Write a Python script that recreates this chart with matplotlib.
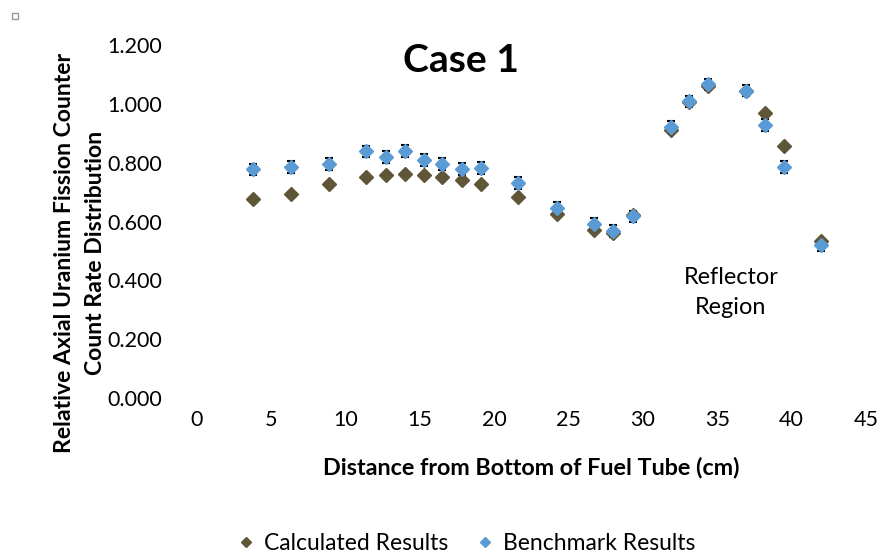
import matplotlib
matplotlib.use("Agg")
import matplotlib.pyplot as plt
from matplotlib.lines import Line2D
import matplotlib.patches as mpatches

plt.rcParams['font.family'] = ['Lato', 'DejaVu Sans']

x_calc = [3.8, 6.3, 8.9, 11.4, 12.7, 14.0, 15.3, 16.5, 17.8, 19.1, 21.6, 24.2, 26.7, 28.0, 29.3, 31.9, 33.1, 34.4, 36.9, 38.2, 39.5, 42.0]
y_calc = [0.678, 0.692, 0.726, 0.750, 0.757, 0.760, 0.757, 0.751, 0.740, 0.726, 0.683, 0.625, 0.572, 0.561, 0.623, 0.912, 1.006, 1.060, 1.042, 0.969, 0.857, 0.535]
x_bench = x_calc
y_bench = [0.777, 0.785, 0.796, 0.838, 0.818, 0.840, 0.809, 0.795, 0.778, 0.781, 0.732, 0.646, 0.591, 0.569, 0.617, 0.921, 1.008, 1.066, 1.045, 0.927, 0.786, 0.520]
y_err = [0.02] * len(y_bench)

yticks = [0.0, 0.2, 0.4, 0.6, 0.8, 1.0, 1.2]
xticks = [0, 5, 10, 15, 20, 25, 30, 35, 40, 45]

c_calc = '#5f5637'
c_bench = '#5b9bd5'

W, H = 884, 556
fig = plt.figure(figsize=(W/100, H/100), dpi=100)
ax = fig.add_axes([197/W, 1-398/H, (866-197)/W, (398-45)/H])
renderer = fig.canvas.get_renderer()


def fit(t, target, horizontal=True):
    for _ in range(4):
        bb = t.get_window_extent(renderer)
        w = bb.width if horizontal else bb.height
        t.set_fontsize(t.get_fontsize() * target / w)


ax.errorbar(x_bench, y_bench, yerr=y_err, fmt='none', ecolor='black', elinewidth=1.0, capsize=3, capthick=1.5, zorder=2)
ax.plot(x_calc, y_calc, linestyle='none', marker='D', markersize=7, color=c_calc, zorder=3)
ax.plot(x_bench, y_bench, linestyle='none', marker='D', markersize=7, color=c_bench, zorder=4)

ax.set_xlim(0, 45)
ax.set_ylim(0, 1.2)
ax.set_xticks(xticks)
ax.set_yticks(yticks)
ax.set_yticklabels([f"{v:.3f}" for v in yticks])
ax.tick_params(axis='both', length=0)
for s in ax.spines.values():
    s.set_visible(False)

# tick label sizing
probe = fig.text(0, 0, '1.200', fontsize=14)
fit(probe, 55)
tsize = probe.get_fontsize()
probe.remove()
ax.tick_params(axis='both', labelsize=tsize)
ax.tick_params(axis='y', pad=25)
ax.tick_params(axis='x', pad=9)

title = fig.text(461/W, 1-61/H, 'Case 1', fontsize=24, fontweight='bold', ha='center', va='center')
fit(title, 116)

r1 = fig.text(731/W, 1-277/H, 'Reflector', fontsize=16, ha='center', va='center')
fit(r1, 95)
fig.text(731/W, 1-307/H, 'Region', fontsize=r1.get_fontsize(), ha='center', va='center')

xl = fig.text(531/W, 1-468/H, 'Distance from Bottom of Fuel Tube (cm)', fontsize=14, fontweight='bold', ha='center', va='center')
fit(xl, 418)

yl1 = fig.text(65/W, 1-253/H, 'Relative Axial Uranium Fission Counter', rotation=90, fontsize=14,
               fontweight='bold', ha='center', va='center')
fit(yl1, 397, horizontal=False)
fig.text(95/W, 1-253/H, 'Count Rate Distribution', rotation=90, fontsize=yl1.get_fontsize(),
         fontweight='bold', ha='center', va='center')

lp = fig.text(0, 0, 'Calculated Results', fontsize=14)
fit(lp, 184)
lsize = lp.get_fontsize()
lp.remove()

handles = [Line2D([], [], linestyle='none', marker='D', markersize=5.5, color=c_calc),
           Line2D([], [], linestyle='none', marker='D', markersize=5.5, color=c_bench)]
fig.legend(handles, ['Calculated Results', 'Benchmark Results'], loc='center', bbox_to_anchor=(467/W, 1-543/H),
           ncol=2, frameon=False, fontsize=lsize, handlelength=0.6, handletextpad=0.5, columnspacing=1.3,
           borderpad=0, borderaxespad=0)

fig.patches.append(mpatches.Rectangle((12/W, 1-19/H), 6/W, 6/H, transform=fig.transFigure,
                                      facecolor='white', edgecolor='#999999', linewidth=1))

fig.savefig('out.png', dpi=100)
